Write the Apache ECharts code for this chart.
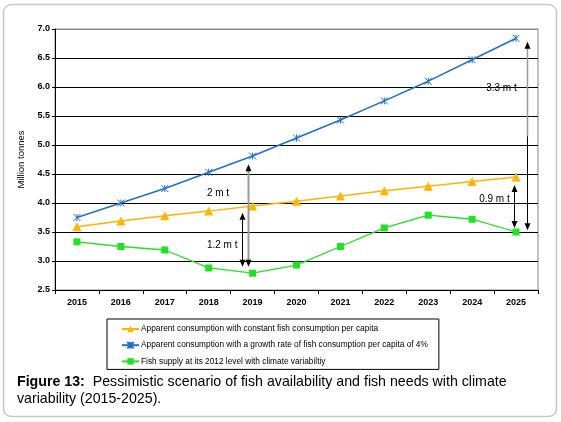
<!DOCTYPE html>
<html><head><meta charset="utf-8">
<script src="https://cdn.jsdelivr.net/npm/echarts@6/dist/echarts.min.js"></script>
<style>html,body{margin:0;padding:0;background:#fff}#c{width:561px;height:422px}</style>
</head><body><div id="c"></div>
<script>
const years = ['2015','2016','2017','2018','2019','2020','2021','2022','2023','2024','2025'];
const constantCapita = [3.59,3.69,3.78,3.86,3.95,4.03,4.12,4.21,4.29,4.37,4.45];
const growthCapita = [3.75,4.00,4.25,4.53,4.81,5.12,5.43,5.76,6.10,6.47,6.84];
const fishSupply = [3.33,3.25,3.19,2.88,2.79,2.93,3.25,3.57,3.79,3.72,3.50];
const seriesNames = [
  'Apparent consumption with constant fish consumption per capita',
  'Apparent consumption with a growth rate of fish consumption per capita of 4%',
  'Fish supply at its 2012 level with climate variabiltiy'
];
const yTicks = {min:2.5, max:7.0, step:0.5};
// annotation arrows in data terms: [category index, from value, to value, colour]
const arrows = [
  [3.9, 4.67, 2.90, '#999'],
  [3.75, 3.83, 2.90, '#000'],
  [9.95, 4.31, 3.57, '#000'],
  [10.24, 6.78, 3.53, 'split']
];
const arrowLabels = [
  ['2 m t', 2.96, 4.17],
  ['1.2 m t', 2.96, 3.27],
  ['3.3 m t', 9.32, 5.97],
  ['0.9 m t', 9.16, 4.07]
];

const chart = echarts.init(document.getElementById('c'));
const FONT = 'Liberation Sans, Arial, sans-serif';
const option = {
  animation:false,
  textStyle:{fontFamily:FONT},
  grid:{left:55, top:29, right:23, bottom:132, show:true, borderColor:'#888', borderWidth:1, backgroundColor:'transparent'},
  xAxis:{type:'category', data:years, boundaryGap:true,
    axisLine:{lineStyle:{color:'#000',width:1}},
    axisTick:{show:true, length:4, lineStyle:{color:'#000'}},
    axisLabel:{color:'#000', fontSize:9, fontWeight:'bold', margin:8, fontFamily:FONT}},
  yAxis:{type:'value', min:yTicks.min, max:yTicks.max, interval:yTicks.step,
    name:'Million tonnes', nameLocation:'middle', nameGap:26, nameRotate:90,
    nameTextStyle:{color:'#000', fontSize:9.5, fontFamily:FONT},
    axisLine:{show:true, lineStyle:{color:'#000'}},
    axisTick:{show:true, length:3, lineStyle:{color:'#000'}},
    axisLabel:{color:'#000', fontSize:9, fontWeight:'bold', margin:5, formatter:v=>v.toFixed(1), fontFamily:FONT},
    splitLine:{show:true, lineStyle:{color:['#000','#000','#000','#000','#000','#000','#000','#000','#000','#888'], width:1}}},
  legend:{orient:'vertical', left:107, top:319,
    borderColor:'#000', borderWidth:1, padding:[6,11,4,14], itemGap:8, itemWidth:17, itemHeight:8,
    textStyle:{fontSize:8.3, color:'#000', fontFamily:FONT, padding:[0,0,0,-3]},
    data:seriesNames},
  series:[
    {name:seriesNames[0], type:'line', data:constantCapita, symbol:'triangle', symbolSize:9,
      lineStyle:{color:'#FFB400', width:1.5}, itemStyle:{color:'#FFB400'}},
    {name:seriesNames[1], type:'line', data:growthCapita, symbol:'path://M0,0L10,10M10,0L0,10M5,0L5,10', symbolSize:7,
      lineStyle:{color:'#2270C4', width:1.5}, itemStyle:{color:'#2270C4', borderColor:'#2270C4', borderWidth:1}},
    {name:seriesNames[2], type:'line', data:fishSupply, symbol:'rect', symbolSize:7,
      lineStyle:{color:'#22E022', width:1.3}, itemStyle:{color:'#22E022'}}
  ]
};
chart.setOption(option);

function px(ci, v){
  const x0 = chart.convertToPixel({xAxisIndex:0}, 0);
  const x1 = chart.convertToPixel({xAxisIndex:0}, 1);
  const x = x0 + (x1-x0)*ci;
  const y = chart.convertToPixel({yAxisIndex:0}, v);
  return [x,y];
}
const g = [];
g.push({type:'rect', shape:{x:3.5, y:4.5, width:553, height:412, r:8}, style:{fill:'none', stroke:'#c8c8c8', lineWidth:1.5}, z:-1});
function head(x, y, dir, col){
  return {type:'polygon', shape:{points:[[x, y],[x-3, y-7*dir],[x+3, y-7*dir]]}, style:{fill:col}, z:10};
}
arrows.forEach(a=>{
  const p1 = px(a[0], a[1]), p2 = px(a[0], a[2]);
  const x = Math.round(p1[0])+0.5;
  if (a[3]==='split'){
    const mid = px(a[0], 5.15)[1];
    g.push({type:'line', shape:{x1:x,y1:p1[1]+5,x2:x,y2:mid}, style:{stroke:'#999', lineWidth:1.5}, z:10});
    g.push({type:'line', shape:{x1:x,y1:mid,x2:x,y2:p2[1]-5}, style:{stroke:'#000', lineWidth:1}, z:10});
  } else {
    g.push({type:'line', shape:{x1:x,y1:p1[1]+5,x2:x,y2:p2[1]-5}, style:{stroke:a[3], lineWidth:a[3]==='#999'?2:1}, z:10});
  }
  g.push(head(x, p1[1], -1, '#000'));
  g.push(head(x, p2[1], 1, '#000'));
});
arrowLabels.forEach(l=>{
  const p = px(l[1], l[2]);
  g.push({type:'text', x:p[0], y:p[1], style:{text:l[0], fill:'#000', font:'10px '+FONT, textAlign:'left', textVerticalAlign:'middle'}, z:10});
});
g.push({type:'text', x:17, y:382, style:{rich:{b:{font:'bold 14.2px '+FONT, fill:'#000'}, n:{font:'14.2px '+FONT, fill:'#000'}},
  text:'{b|Figure 13:}{n|  Pessimistic scenario of fish availability and fish needs with climate}', textVerticalAlign:'middle'}});
g.push({type:'text', x:17, y:399, style:{text:'variability (2015-2025).', font:'14.2px '+FONT, fill:'#000', textVerticalAlign:'middle'}});
chart.setOption({graphic:g});
</script></body></html>
